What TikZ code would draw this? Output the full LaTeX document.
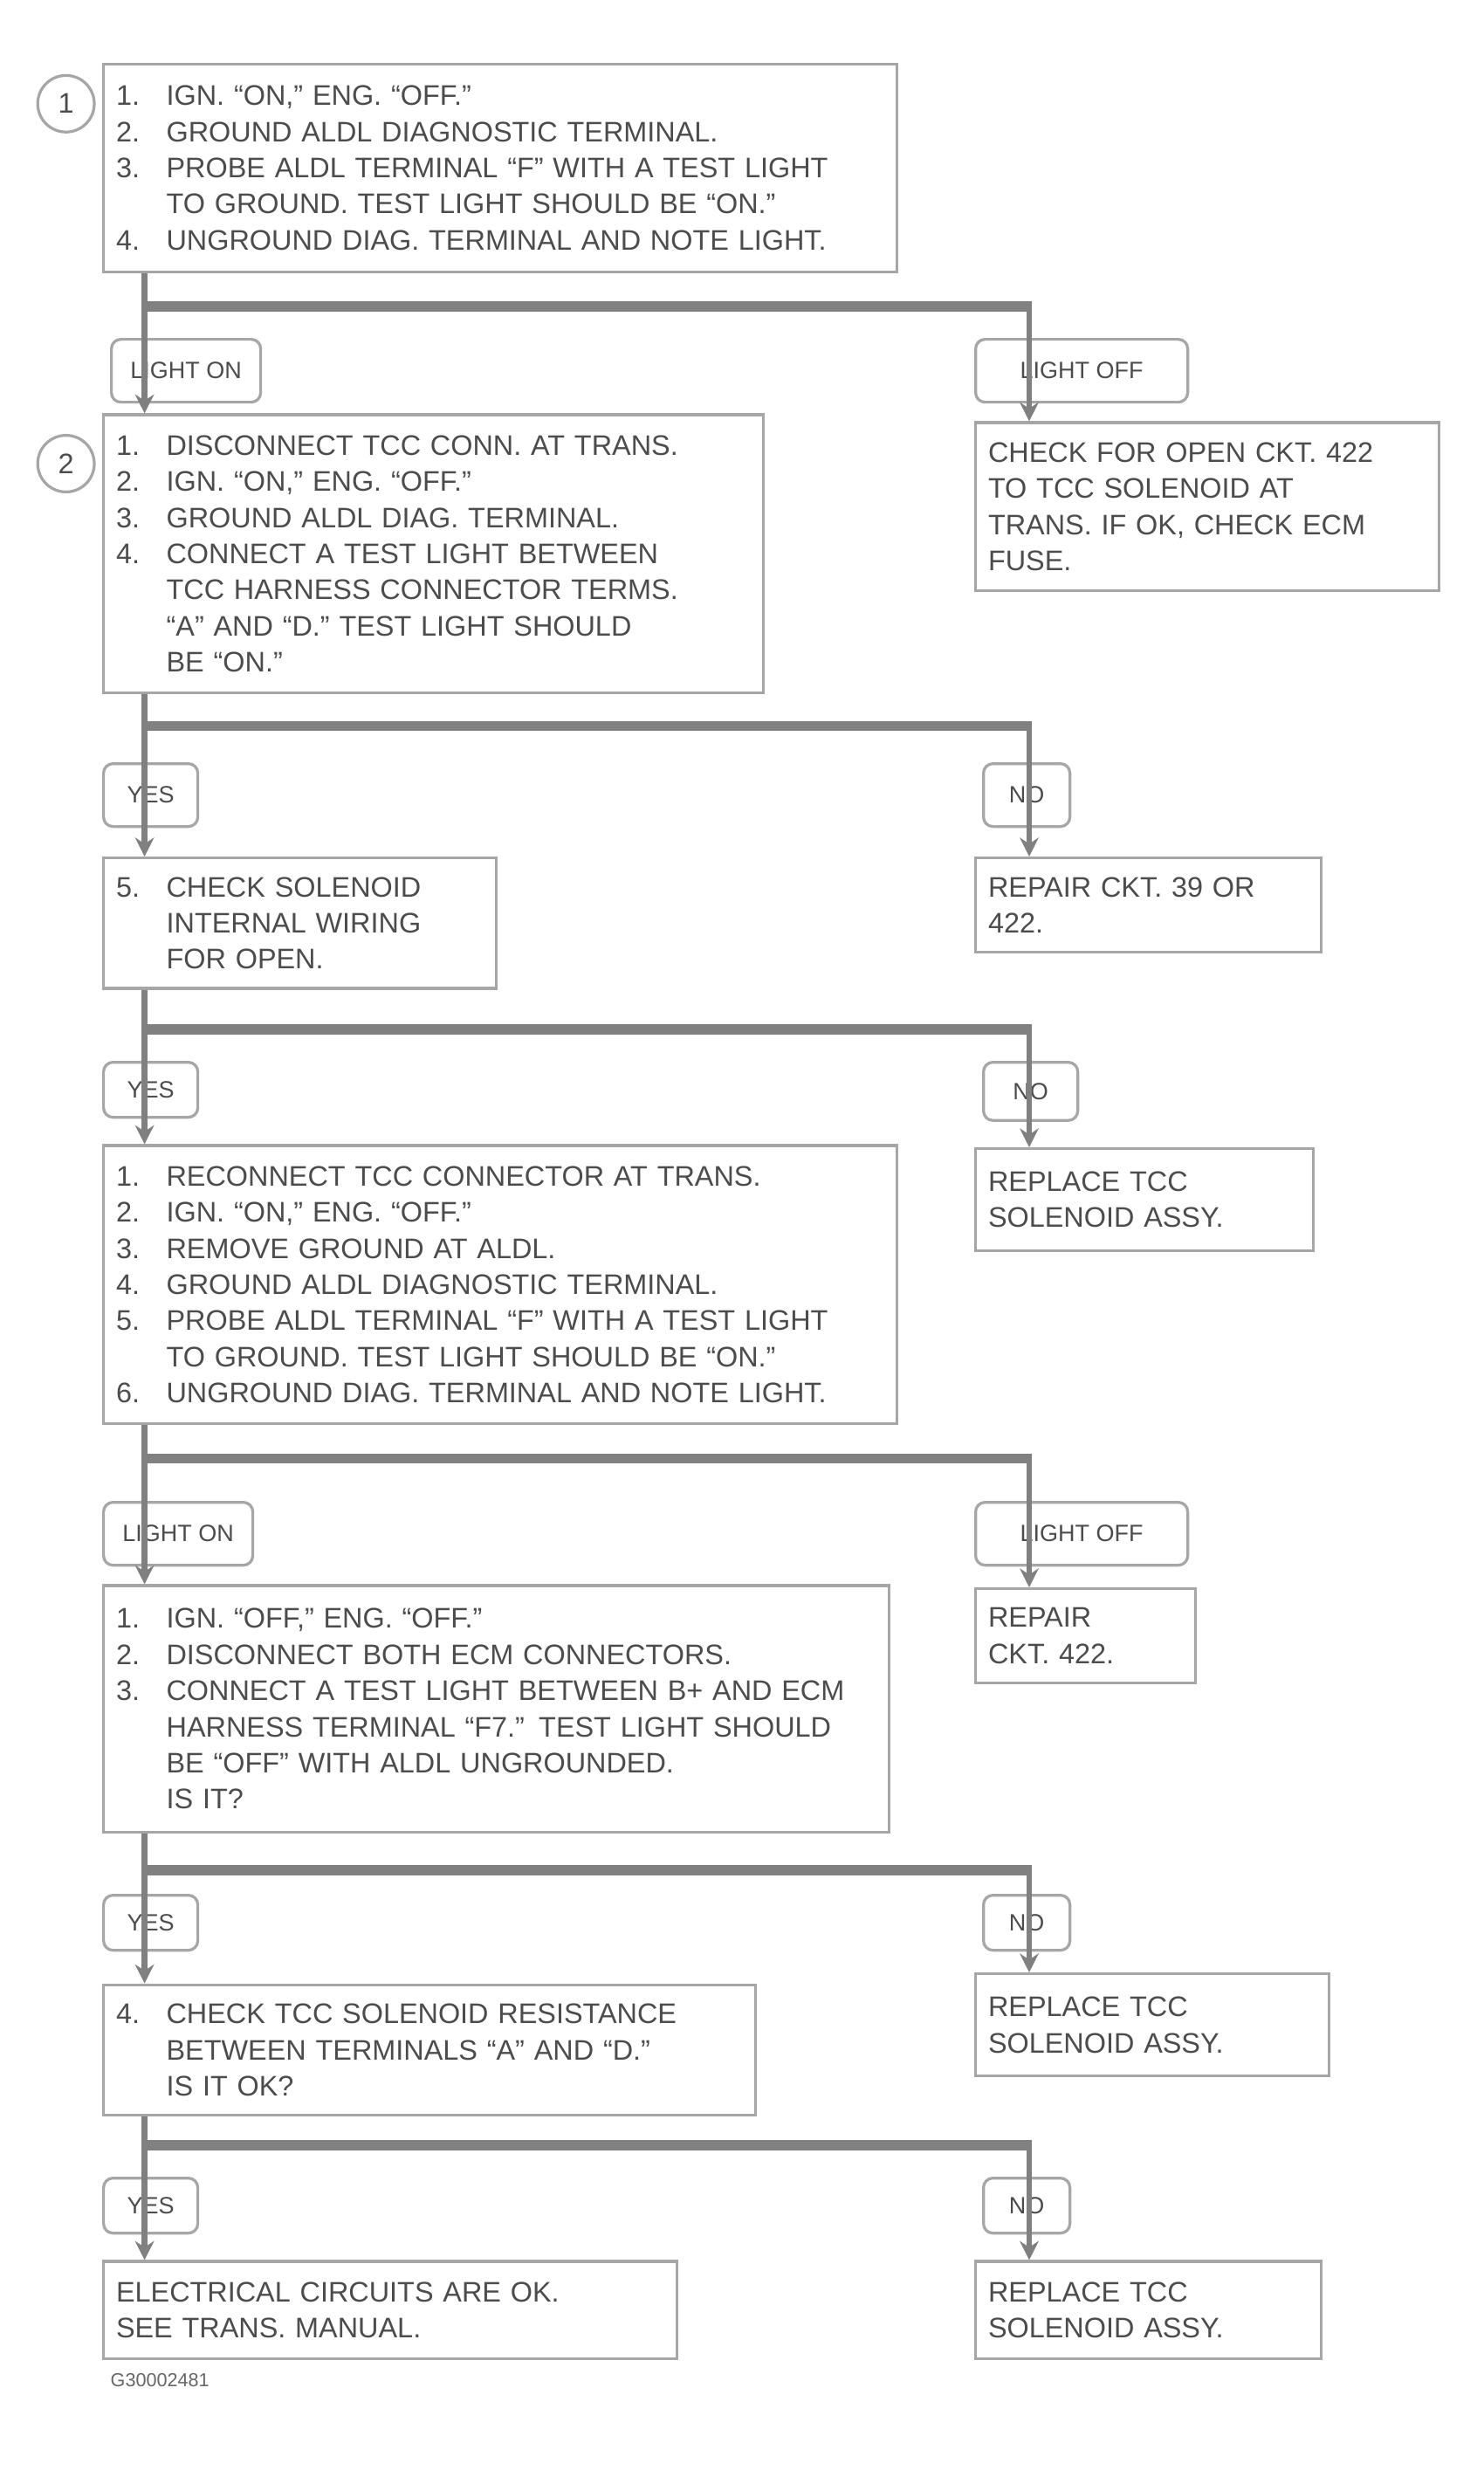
\documentclass[tikz,border=0pt]{standalone}
\usepackage{fontspec}
\setmainfont{Liberation Sans}
\usetikzlibrary{arrows.meta}
\newlength{\numw}\setlength{\numw}{16pt}
\newcommand{\itm}[2]{\makebox[\numw][l]{#1}#2}
\newcommand{\cnt}[1]{\hspace*{\numw}#1}
\begin{document}
\begin{tikzpicture}[x=0.5pt,y=-0.5pt,
  font=\fontsize{9}{11.5}\selectfont,
  box/.style={draw=black!35, line width=0.9pt, anchor=north west, inner xsep=4pt, inner ysep=0pt, align=left, text=black!70, fill=white},
  lbl/.style={draw=black!35, line width=0.9pt, rounded corners=3pt, anchor=north west, inner sep=0pt, align=center, text=black!70, fill=white, font=\fontsize{7.5}{9}\selectfont},
  circ/.style={circle, draw=black!35, line width=0.9pt, minimum size=18pt, inner sep=0pt, text=black!70},
  bar/.style={draw=black!50, line width=3.2pt},
  conn/.style={draw=black!50, line width=1.8pt},
  arr/.style={conn, -{Stealth[length=6pt,width=6pt]}},
  captxt/.style={anchor=north west, inner sep=0pt, text=black!60, font=\fontsize{6}{7}\selectfont}]
\path[use as bounding box] (0,0) rectangle (943.9,1585);

% ---------------- row 1
\node[box, text width=244.5pt, minimum height=66pt] (A) at (65,40) {%
\itm{1.}{IGN. ``ON,'' ENG. ``OFF.''}\\
\itm{2.}{GROUND ALDL DIAGNOSTIC TERMINAL.}\\
\itm{3.}{PROBE ALDL TERMINAL ``F'' WITH A TEST LIGHT}\\
\cnt{TO GROUND. TEST LIGHT SHOULD BE ``ON.''}\\
\itm{4.}{UNGROUND DIAG. TERMINAL AND NOTE LIGHT.}};
\node[circ] (c1) at (42,66) {1};

\coordinate (j1L) at (92,195);
\coordinate (j1R) at (655,195);
\node[lbl, minimum width=47.5pt, minimum height=20pt] (l1L) at (70,215) {LIGHT ON};
\node[lbl, minimum width=67.5pt, minimum height=20pt] (l1R) at (620,215) {LIGHT OFF};

% ---------------- row 2
\node[box, text width=202pt, minimum height=88.5pt] (B) at (65,263) {%
\itm{1.}{DISCONNECT TCC CONN. AT TRANS.}\\
\itm{2.}{IGN. ``ON,'' ENG. ``OFF.''}\\
\itm{3.}{GROUND ALDL DIAG. TERMINAL.}\\
\itm{4.}{CONNECT A TEST LIGHT BETWEEN}\\
\cnt{TCC HARNESS CONNECTOR TERMS.}\\
\cnt{``A'' AND ``D.'' TEST LIGHT SHOULD}\\
\cnt{BE ``ON.''}};
\node[circ] (c2) at (42,295) {2};
\node[box, text width=139.5pt, minimum height=53.5pt] (BR) at (620,268) {%
CHECK FOR OPEN CKT. 422\\
TO TCC SOLENOID AT\\
TRANS. IF OK, CHECK ECM\\
FUSE.};

\coordinate (j2L) at (92,462);
\coordinate (j2R) at (655,462);
\node[lbl, minimum width=30pt, minimum height=20pt] (l2L) at (65,485) {YES};
\node[lbl, minimum width=27.5pt, minimum height=20pt] (l2R) at (625,485) {NO};

% ---------------- row 3
\node[box, text width=117pt, minimum height=41.5pt] (C) at (65,545) {%
\itm{5.}{CHECK SOLENOID}\\
\cnt{INTERNAL WIRING}\\
\cnt{FOR OPEN.}};
\node[box, text width=102pt, minimum height=30pt] (CR) at (620,545) {%
REPAIR CKT. 39 OR\\
422.};

\coordinate (j3L) at (92,655);
\coordinate (j3R) at (655,655);
\node[lbl, minimum width=30pt, minimum height=17.5pt] (l3L) at (65,675) {YES};
\node[lbl, minimum width=30pt, minimum height=18.5pt] (l3R) at (625,675) {NO};

% ---------------- row 4
\node[box, text width=244.5pt, minimum height=88.5pt] (D) at (65,728) {%
\itm{1.}{RECONNECT TCC CONNECTOR AT TRANS.}\\
\itm{2.}{IGN. ``ON,'' ENG. ``OFF.''}\\
\itm{3.}{REMOVE GROUND AT ALDL.}\\
\itm{4.}{GROUND ALDL DIAGNOSTIC TERMINAL.}\\
\itm{5.}{PROBE ALDL TERMINAL ``F'' WITH A TEST LIGHT}\\
\cnt{TO GROUND. TEST LIGHT SHOULD BE ``ON.''}\\
\itm{6.}{UNGROUND DIAG. TERMINAL AND NOTE LIGHT.}};
\node[box, text width=99.5pt, minimum height=32.5pt] (DR) at (620,730) {%
REPLACE TCC\\
SOLENOID ASSY.};

\coordinate (j4L) at (92,928);
\coordinate (j4R) at (655,928);
\node[lbl, minimum width=47.5pt, minimum height=20pt] (l4L) at (65,955) {LIGHT ON};
\node[lbl, minimum width=67.5pt, minimum height=20pt] (l4R) at (620,955) {LIGHT OFF};

% ---------------- row 5
\node[box, text width=242pt, minimum height=78.5pt] (E) at (65,1008) {%
\itm{1.}{IGN. ``OFF,'' ENG. ``OFF.''}\\
\itm{2.}{DISCONNECT BOTH ECM CONNECTORS.}\\
\itm{3.}{CONNECT A TEST LIGHT BETWEEN B+ AND ECM}\\
\cnt{HARNESS TERMINAL ``F7.'' TEST LIGHT SHOULD}\\
\cnt{BE ``OFF'' WITH ALDL UNGROUNDED.}\\
\cnt{IS IT?}};
\node[box, text width=62pt, minimum height=30pt] (ER) at (620,1010) {%
REPAIR\\
CKT. 422.};

\coordinate (j5L) at (92,1190);
\coordinate (j5R) at (655,1190);
\node[lbl, minimum width=30pt, minimum height=17.5pt] (l5L) at (65,1205) {YES};
\node[lbl, minimum width=27.5pt, minimum height=17.5pt] (l5R) at (625,1205) {NO};

% ---------------- row 6
\node[box, text width=199.5pt, minimum height=41.5pt] (F) at (65,1262) {%
\itm{4.}{CHECK TCC SOLENOID RESISTANCE}\\
\cnt{BETWEEN TERMINALS ``A'' AND ``D.''}\\
\cnt{IS IT OK?}};
\node[box, text width=104.5pt, minimum height=32.5pt] (FR) at (620,1255) {%
REPLACE TCC\\
SOLENOID ASSY.};

\coordinate (j6L) at (92,1365);
\coordinate (j6R) at (655,1365);
\node[lbl, minimum width=30pt, minimum height=17.5pt] (l6L) at (65,1385) {YES};
\node[lbl, minimum width=27.5pt, minimum height=17.5pt] (l6R) at (625,1385) {NO};

% ---------------- row 7
\node[box, text width=174.5pt, minimum height=31pt] (G) at (65,1438) {%
ELECTRICAL CIRCUITS ARE OK.\\
SEE TRANS. MANUAL.};
\node[box, text width=102pt, minimum height=31pt] (GR) at (620,1438) {%
REPLACE TCC\\
SOLENOID ASSY.};
\node[captxt] (capt) at (70,1510) {G30002481};

% ---------------- connectors
\foreach \up/\n/\dn/\dnR in {A/1/B/BR, B/2/C/CR, C/3/D/DR, D/4/E/ER, E/5/F/FR, F/6/G/GR}{
  \draw[conn] (\up.south -| j\n L) -- (j\n L);
  \draw[bar] ([xshift=-0.9pt]j\n L) -- ([xshift=0.9pt]j\n R);
  \draw[arr] (j\n L) -- (\dn.north -| j\n L);
  \draw[arr] (j\n R) -- (\dnR.north -| j\n R);
}
\end{tikzpicture}
\end{document}
